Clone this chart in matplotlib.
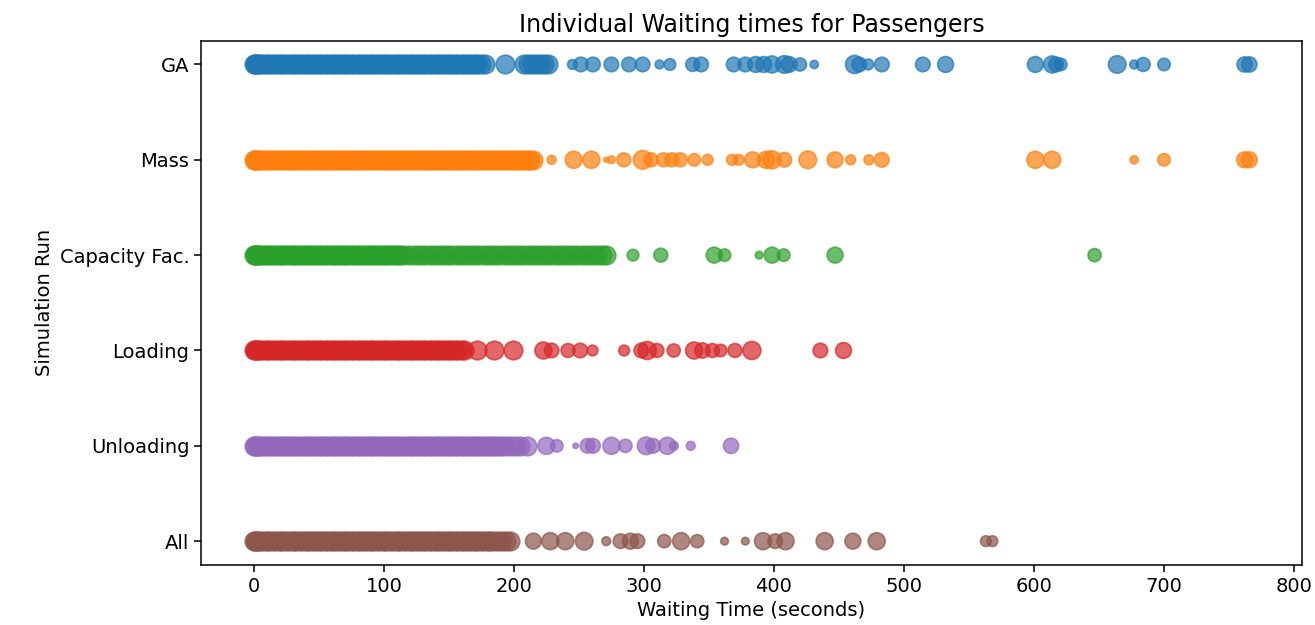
import matplotlib
matplotlib.use("Agg")
import matplotlib.pyplot as plt

categories = ["GA", "Mass", "Capacity Fac.", "Loading", "Unloading", "All"]
colors = ["#1f77b4", "#ff7f0e", "#2ca02c", "#d62728", "#9467bd", "#8c564b"]

# dense core waiting times (seconds)
ga_dense = [0, 1, 2, 3, 5, 7, 10, 12, 15, 17, 20, 22, 25, 27, 30, 32, 35, 37, 40, 42, 45, 47, 50, 52, 55,
            57, 60, 62, 65, 67, 70, 72, 75, 77, 80, 82, 85, 87, 90, 92, 95, 97, 100, 102, 105, 107, 110,
            112, 115, 117, 120, 122, 125, 127, 130, 132, 135, 137, 140, 142, 145, 147, 150, 152, 155, 157,
            160, 162, 165, 167, 170, 172, 175, 178, 193, 208, 211, 214, 217, 220, 223, 226]
mass_dense = [0, 1, 2, 3, 5, 7, 10, 12, 15, 17, 20, 22, 25, 27, 30, 32, 35, 37, 40, 42, 45, 47, 50, 52, 55,
              57, 60, 62, 65, 67, 70, 72, 75, 77, 80, 82, 85, 87, 90, 92, 95, 97, 100, 102, 105, 107, 110,
              112, 115, 117, 120, 122, 125, 127, 130, 132, 135, 137, 140, 142, 145, 147, 150, 152, 155, 157,
              160, 162, 165, 167, 170, 172, 175, 177, 180, 182, 185, 187, 190, 192, 195, 197, 200, 202,
              205, 207, 210, 212, 215]
cap_dense = [0, 1, 2, 3, 5, 7, 10, 12, 15, 17, 20, 22, 25, 27, 30, 32, 35, 37, 40, 42, 45, 47, 50, 52, 55,
             57, 60, 62, 65, 67, 70, 72, 75, 77, 80, 82, 85, 87, 90, 92, 95, 97, 100, 102, 105, 107, 110,
             112, 115, 119, 124, 128, 132, 136, 140, 144, 148, 152, 156, 160, 164, 168, 172, 176, 180, 184,
             188, 192, 196, 200, 204, 208, 212, 216, 220, 224, 228, 232, 236, 240, 244, 248, 252, 256, 260,
             264, 268, 271]
load_dense = [0, 1, 2, 3, 5, 7, 10, 12, 15, 17, 20, 22, 25, 27, 30, 32, 35, 37, 40, 42, 45, 47, 50, 52, 55,
              57, 60, 62, 65, 67, 70, 72, 75, 77, 80, 82, 85, 87, 90, 92, 95, 97, 100, 102, 105, 107, 110,
              112, 115, 117, 120, 122, 125, 127, 130, 132, 135, 137, 140, 142, 145, 147, 150, 152, 155, 157,
              160, 162, 172, 185, 199]
unload_dense = [0, 1, 2, 3, 5, 7, 10, 12, 15, 17, 20, 22, 25, 27, 30, 32, 35, 37, 40, 42, 45, 47, 50, 52,
                55, 57, 60, 62, 65, 67, 70, 72, 75, 77, 80, 82, 85, 87, 90, 92, 95, 97, 100, 102, 105, 107,
                110, 112, 115, 117, 120, 122, 125, 127, 130, 132, 135, 137, 140, 142, 145, 147, 150, 152,
                155, 157, 160, 162, 165, 167, 170, 172, 175, 177, 180, 182, 185, 187, 190, 193, 197, 201,
                205, 210]
all_dense = [0, 1, 2, 3, 5, 7, 10, 12, 15, 17, 20, 22, 25, 27, 30, 32, 35, 37, 40, 42, 45, 47, 50, 52, 55,
             57, 60, 62, 65, 67, 70, 72, 75, 77, 80, 82, 85, 87, 90, 92, 95, 97, 100, 102, 105, 107, 110,
             112, 115, 117, 120, 122, 125, 127, 130, 132, 135, 137, 140, 142, 145, 147, 150, 152, 155, 157,
             160, 162, 165, 167, 170, 172, 175, 177, 180, 182, 185, 188, 191, 194, 197]

# sparse tail waiting times and marker sizes
ga_tail = [245, 251.5, 260.8, 275, 288.5, 299, 312, 320, 337.5, 344, 369, 378, 386, 392, 398.5, 408, 411.6,
           420, 431, 462, 465.6, 472.5, 483, 514.5, 532, 601, 614, 617, 620.6, 664, 677, 684, 700, 762, 765.6]
ga_tail_size = [50, 110, 110, 110, 110, 110, 40, 70, 100, 110, 110, 110, 130, 130, 150, 160, 130,
                90, 35, 170, 110, 60, 110, 110, 130, 130, 150, 110, 80, 160, 40, 100, 80, 120, 120]
mass_tail = [229, 246, 259.6, 271, 275, 284.5, 299, 305.5, 315, 321.6, 328, 338.7, 349, 367.7, 373, 383.6,
             394, 398.5, 408, 426, 447, 459, 473, 483, 601, 614, 677, 700, 762, 765.6]
mass_tail_size = [40, 150, 150, 12, 30, 100, 180, 100, 100, 100, 100, 80, 60, 60, 60, 130,
                  150, 170, 110, 160, 130, 50, 50, 110, 150, 150, 35, 80, 130, 130]
cap_tail = [291.6, 313, 354, 362, 388.6, 398.6, 407.5, 447, 646.6]
cap_tail_size = [70, 100, 130, 80, 30, 130, 80, 130, 90]
load_tail = [222.7, 229, 241.6, 251, 260.5, 284.8, 298, 302.5, 310, 322.9, 338.6, 345, 352.7, 359, 370, 383,
             435.7, 453.5]
load_tail_size = [150, 110, 100, 110, 60, 60, 110, 170, 100, 90, 150, 120, 100, 80, 100, 170, 110, 130]
unload_tail = [225, 233, 247.5, 256.6, 260.8, 275, 285.8, 301.7, 307, 318, 323, 336, 367]
unload_tail_size = [150, 80, 15, 110, 110, 150, 90, 160, 110, 150, 40, 40, 120]
all_tail = [215, 228, 239.5, 254, 271, 282, 289.6, 295, 315.6, 328.6, 341, 362, 378, 391.6, 401, 408.9,
            439, 460.7, 479, 563, 568]
all_tail_size = [130, 150, 150, 160, 40, 110, 130, 110, 90, 150, 90, 30, 30, 150, 110, 150,
                 150, 130, 150, 60, 60]

dense = [ga_dense, mass_dense, cap_dense, load_dense, unload_dense, all_dense]
tails = [ga_tail, mass_tail, cap_tail, load_tail, unload_tail, all_tail]
tail_sizes = [ga_tail_size, mass_tail_size, cap_tail_size, load_tail_size, unload_tail_size, all_tail_size]

fig = plt.figure(figsize=(13.15, 6.25), dpi=100)
ax = fig.add_axes([0.153, 0.096, 0.837, 0.839])

for cat, col, d, t, ts in zip(categories, colors, dense, tails, tail_sizes):
    ax.scatter(d, [cat] * len(d), s=180, color=col, alpha=0.7, linewidths=1.2)
    ax.scatter(t, [cat] * len(t), s=ts, color=col, alpha=0.7, linewidths=1.2)

ax.invert_yaxis()
ax.set_xlim(-40.5, 806)
ax.set_xticks([0, 100, 200, 300, 400, 500, 600, 700, 800])
ax.tick_params(labelsize=14, length=5, width=1.1)
for sp in ax.spines.values():
    sp.set_linewidth(1.1)
ax.set_xlabel("Waiting Time (seconds)", fontsize=14)
ax.set_ylabel("Simulation Run", fontsize=14)
ax.set_title("Individual Waiting times for Passengers", fontsize=17)

fig.savefig("out.png", dpi=100)
